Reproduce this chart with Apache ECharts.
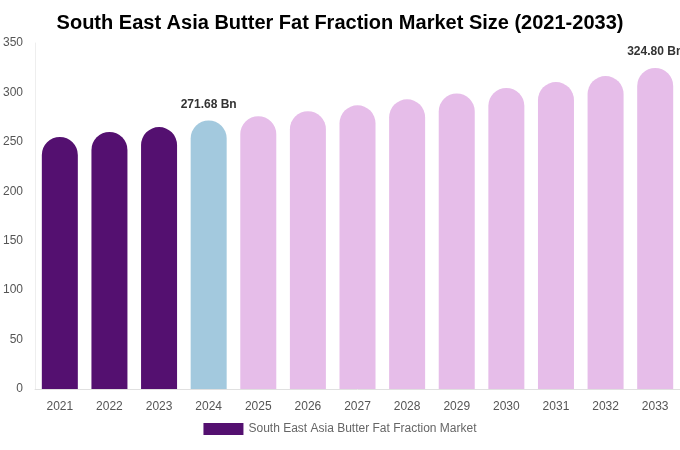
<!DOCTYPE html>
<html><head><meta charset="utf-8">
<script src="https://cdn.jsdelivr.net/npm/echarts@6/dist/echarts.min.js"></script>
<style>html,body{margin:0;padding:0}#c{width:680px;height:450px}</style>
</head><body><div id="c"></div>
<script>
const categories=['2021','2022','2023','2024','2025','2026','2027','2028','2029','2030','2031','2032','2033'];
const values=[255,260,265,271.68,276,281,287,293,299,304.5,310.5,316.6,324.8];
const labeled={3:'271.68 Bn',12:'324.80 Bn'};
const colors=categories.map((c,i)=>i<3?'#541070':(i===3?'#a3c9de':'#e6bde9'));
const chart=echarts.init(document.getElementById('c'));
chart.setOption({
  title:{text:'South East Asia Butter Fat Fraction Market Size (2021-2033)',left:'center',top:8,textStyle:{fontFamily:'Liberation Sans, Arial',fontSize:20,fontWeight:'bold',color:'#000'}},
  grid:{left:35,right:0,top:43,bottom:61},
  legend:{bottom:10,itemWidth:40,itemHeight:12,icon:'rect',textStyle:{color:'#666',fontSize:12,fontFamily:'Liberation Sans, Arial'},data:['South East Asia Butter Fat Fraction Market']},
  xAxis:{type:'category',data:categories,axisTick:{show:false},axisLine:{lineStyle:{color:'#e0e0e0'}},axisLabel:{color:'#555',fontSize:12,margin:12,fontFamily:'Liberation Sans, Arial'}},
  yAxis:{type:'value',min:0,max:350,interval:50,axisLine:{show:true,lineStyle:{color:'#eeeeee'}},splitLine:{show:false},axisLabel:{color:'#555',fontSize:12,margin:12,fontFamily:'Liberation Sans, Arial'}},
  series:[{name:'South East Asia Butter Fat Fraction Market',type:'bar',barWidth:36,itemStyle:{color:'#541070'},
    data:values.map((v,i)=>({value:v,itemStyle:{color:colors[i],borderRadius:[18,18,0,0]},
      label:{show:!!labeled[i],position:'top',formatter:labeled[i]||'',color:'#333',fontWeight:'bold',fontSize:12,distance:10,fontFamily:'Liberation Sans, Arial'}}))}]
});
</script></body></html>
